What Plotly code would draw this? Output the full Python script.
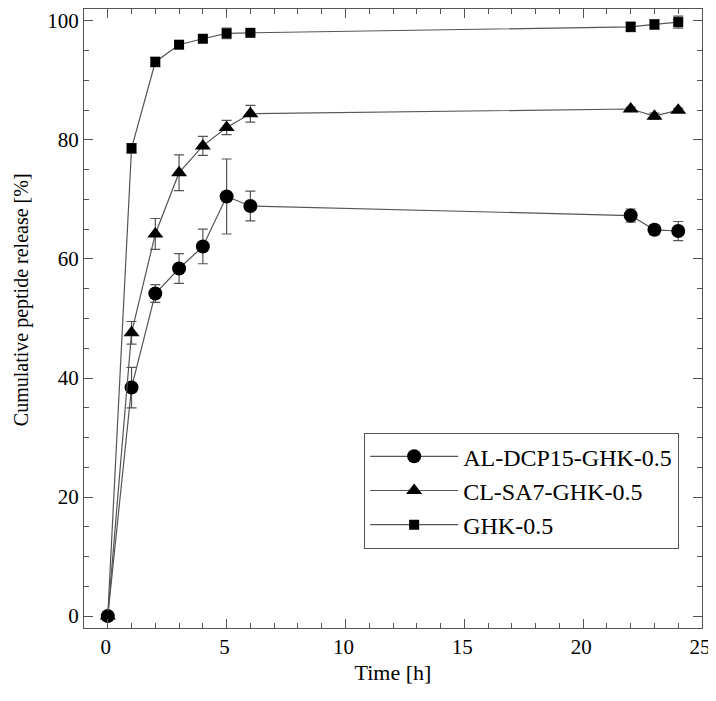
import plotly.graph_objects as go

time_h = [0, 1, 2, 3, 4, 5, 6, 22, 23, 24]

al_dcp15 = [0, 38.4, 54.2, 58.4, 62.1, 70.5, 68.9, 67.3, 64.9, 64.7]
al_dcp15_err = [0.5, 3.4, 1.5, 2.5, 2.9, 6.3, 2.5, 1.1, 0.8, 1.6]

cl_sa7 = [0, 47.6, 64.2, 74.5, 79.0, 82.1, 84.4, 85.2, 84.0, 85.0]
cl_sa7_err = [0.3, 1.9, 2.6, 3.0, 1.6, 1.2, 1.4, 0.3, 0.5, 0.3]

ghk = [0, 78.6, 93.1, 96.0, 97.0, 97.9, 98.0, 99.0, 99.4, 99.8]
ghk_err = [0.3, 0.8, 0.8, 0.3, 0.3, 0.9, 0.3, 0.8, 0.8, 1.0]

series = [
    ("AL-DCP15-GHK-0.5", al_dcp15, al_dcp15_err, "circle", 14),
    ("CL-SA7-GHK-0.5", cl_sa7, cl_sa7_err, "triangle-up", 14),
    ("GHK-0.5", ghk, ghk_err, "square", 10),
]

FONT = "Times New Roman"

fig = go.Figure()
for name, vals, errs, sym, size in series:
    fig.add_trace(go.Scatter(
        x=time_h, y=vals, name=name, mode="lines+markers",
        line=dict(color="#555555", width=1.2),
        marker=dict(symbol=sym, size=size, color="black"),
        error_y=dict(type="data", array=errs, visible=True,
                     color="#555555", thickness=1.2, width=5),
    ))

axis_common = dict(
    showgrid=False, zeroline=False, showline=True, linecolor="#555555",
    linewidth=1.2, mirror="ticks", ticks="inside", ticklen=9,
    tickcolor="#555555", tickwidth=1.2, ticklabeloverflow="allow",
    automargin=False,
    tickfont=dict(family=FONT, size=21, color="black"),
)

# page body has an 8px margin, so the figure is 8px smaller than the window
fig.update_layout(
    width=708, height=693,
    margin=dict(l=76, r=14, t=1, b=73),
    paper_bgcolor="white", plot_bgcolor="white",
    font=dict(family=FONT, color="black"),
    xaxis=dict(range=[-1, 25], tick0=0, dtick=5, ticklabelshift=-2,
               minor=dict(dtick=1, ticks="inside", ticklen=5,
                          tickcolor="#555555", tickwidth=1.2),
               title=dict(text="Time [h]", font=dict(family=FONT, size=22),
                          standoff=6),
               **axis_common),
    yaxis=dict(range=[-2, 102], tick0=0, dtick=20,
               minor=dict(dtick=5, ticks="inside", ticklen=5,
                          tickcolor="#555555", tickwidth=1.2),
               **axis_common),
    legend=dict(x=0.453, y=0.315, xanchor="left", yanchor="top",
                bordercolor="#555555", borderwidth=1.2, bgcolor="white",
                font=dict(family=FONT, size=24), tracegroupgap=0,
                itemwidth=88),
    showlegend=True,
)

# y title sits a little above the axis centre in the original
fig.add_annotation(text="Cumulative peptide release [%]", textangle=-90,
                   xref="paper", yref="paper", x=-0.1, y=0.53,
                   xanchor="center", yanchor="middle", showarrow=False,
                   font=dict(family=FONT, size=20, color="black"))

fig.write_html("out.html")
